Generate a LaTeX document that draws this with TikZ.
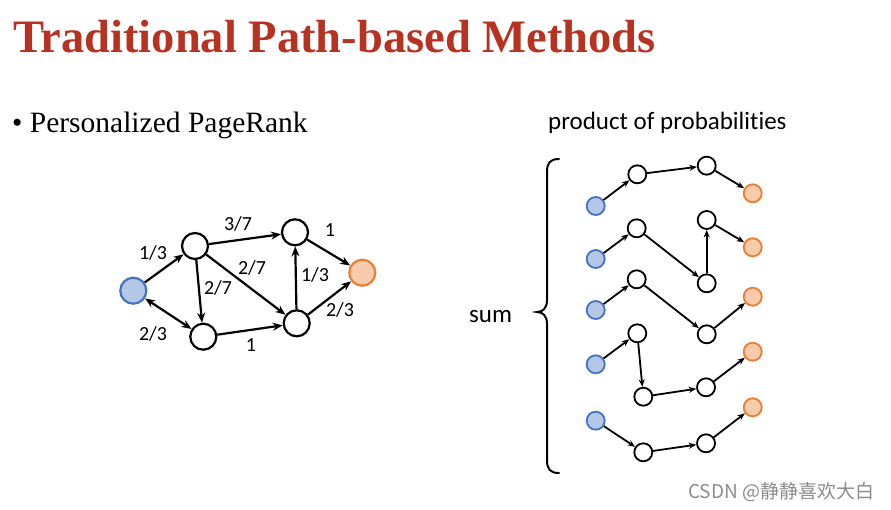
\documentclass[tikz,border=0pt]{standalone}
\usepackage{fontspec}
\setmainfont{Liberation Serif}
\newfontfamily\calib[RawFeature=-liga]{Carlito}
\newfontfamily\cjkf{Noto Sans CJK SC}
\usetikzlibrary{arrows.meta}
\definecolor{titlered}{RGB}{184,50,34}
\definecolor{srcfill}{RGB}{180,199,231}
\definecolor{srcdraw}{RGB}{68,114,196}
\definecolor{tgtfill}{RGB}{248,203,173}
\definecolor{tgtdraw}{RGB}{237,125,49}
\begin{document}
\begin{tikzpicture}[x=1pt,y=-1pt,
  wbig/.style={circle,draw=black,fill=white,line width=2.2pt,minimum size=26pt,inner sep=0pt},
  sbig/.style={wbig,draw=srcdraw,fill=srcfill},
  tbig/.style={wbig,draw=tgtdraw,fill=tgtfill},
  wsm/.style={circle,draw=black,fill=white,line width=1.8pt,minimum size=18pt,inner sep=0pt},
  ssm/.style={wsm,draw=srcdraw,fill=srcfill},
  tsm/.style={wsm,draw=tgtdraw,fill=tgtfill},
  bigarr/.style={-{Stealth[length=10pt,width=8pt]},line width=2.2pt},
  bothbig/.style={{Stealth[length=10pt,width=8pt]}-{Stealth[length=10pt,width=8pt]},line width=2.2pt},
  smarr/.style={-{Stealth[length=7.5pt,width=6pt]},line width=1.8pt},
  lbl/.style={font=\calib\fontsize{20}{20}\selectfont,inner sep=0pt}]
\useasboundingbox (0,0) rectangle (891,509);
\fill[white] (0,0) rectangle (891,509);
% title
\node[anchor=base west,inner sep=0pt,text=titlered,font=\bfseries\fontsize{46.5}{50}\selectfont] (title) at (13,52) {Traditional Path-based Methods};
\node[anchor=base west,inner sep=0pt,font=\fontsize{29.5}{31}\selectfont] (bullet) at (12,132) {\textbullet\ Personalized PageRank};
\node[anchor=base west,inner sep=0pt,font=\calib\fontsize{25}{27}\selectfont] (prod) at (548,129) {product of probabilities};
\node[anchor=base west,inner sep=0pt,font=\calib\fontsize{25}{27}\selectfont] (sum) at (469,322) {sum};
\node[anchor=base west,inner sep=0pt,text=black!45,font=\cjkf\fontsize{19}{20}\selectfont] (wm) at (688,498) {CSDN @静静喜欢大白};
% left graph
\node[sbig] (s) at (133.3,290.7) {};
\node[wbig] (a) at (195,246) {};
\node[wbig] (b) at (203.3,336.7) {};
\node[wbig] (c) at (295,232.3) {};
\node[wbig] (d) at (296.7,323.3) {};
\node[tbig] (t) at (362.3,272.7) {};
\draw[bigarr] (s) -- (a);
\draw[bothbig] (s) -- (b);
\draw[bigarr] (a) -- (c);
\draw[bigarr] (a) -- (d);
\draw[bigarr] (a) -- (b);
\draw[bigarr] (b) -- (d);
\draw[bigarr] (d) -- (c);
\draw[bigarr] (c) -- (t);
\draw[bigarr] (d) -- (t);
\node[lbl] (l1) at (153,253) {1/3};
\node[lbl] (l2) at (153,334) {2/3};
\node[lbl] (l3) at (238,224) {3/7};
\node[lbl] (l4) at (252,268) {2/7};
\node[lbl] (l5) at (218,288) {2/7};
\node[lbl] (l6) at (315,275) {1/3};
\node[lbl] (l7) at (330,230) {1};
\node[lbl] (l8) at (340,310) {2/3};
\node[lbl] (l9) at (251,345) {1};
% brace
\draw[line width=2pt,line cap=round] (559,159) .. controls (550,159) and (547,163) .. (547,172) -- (547,300) .. controls (547,308) and (543,312) .. (537,312) .. controls (543,312) and (547,316) .. (547,324) -- (547,460) .. controls (547,469) and (550,473) .. (559,473);
% row 1
\node[ssm] (r1s) at (595.7,206) {};
\node[wsm] (r1a) at (637.3,174.3) {};
\node[wsm] (r1b) at (706.7,165.7) {};
\node[tsm] (r1t) at (752.7,193.3) {};
\draw[smarr] (r1s) -- (r1a);
\draw[smarr] (r1a) -- (r1b);
\draw[smarr] (r1b) -- (r1t);
% row 2
\node[ssm] (r2s) at (595.7,259) {};
\node[wsm] (r2a) at (636.7,228.3) {};
\node[wsm] (r2b) at (706.7,283.3) {};
\node[wsm] (r2c) at (706.7,220) {};
\node[tsm] (r2t) at (752.7,247.3) {};
\draw[smarr] (r2s) -- (r2a);
\draw[smarr] (r2a) -- (r2b);
\draw[smarr] (r2b) -- (r2c);
\draw[smarr] (r2c) -- (r2t);
% row 3
\node[ssm] (r3s) at (595.7,310) {};
\node[wsm] (r3a) at (636.7,279.3) {};
\node[wsm] (r3b) at (706.7,334.3) {};
\node[tsm] (r3t) at (752.7,296.7) {};
\draw[smarr] (r3s) -- (r3a);
\draw[smarr] (r3a) -- (r3b);
\draw[smarr] (r3b) -- (r3t);
% row 4
\node[ssm] (r4s) at (595.7,364.3) {};
\node[wsm] (r4a) at (637.3,333.3) {};
\node[wsm] (r4b) at (643.3,396.7) {};
\node[wsm] (r4c) at (706,387.3) {};
\node[tsm] (r4t) at (752.7,351.7) {};
\draw[smarr] (r4s) -- (r4a);
\draw[smarr] (r4a) -- (r4b);
\draw[smarr] (r4b) -- (r4c);
\draw[smarr] (r4c) -- (r4t);
% row 5
\node[ssm] (r5s) at (595.7,420.7) {};
\node[wsm] (r5a) at (643.3,452.3) {};
\node[wsm] (r5b) at (706,443.3) {};
\node[tsm] (r5t) at (752.7,407.3) {};
\draw[smarr] (r5s) -- (r5a);
\draw[smarr] (r5a) -- (r5b);
\draw[smarr] (r5b) -- (r5t);
\end{tikzpicture}
\end{document}
